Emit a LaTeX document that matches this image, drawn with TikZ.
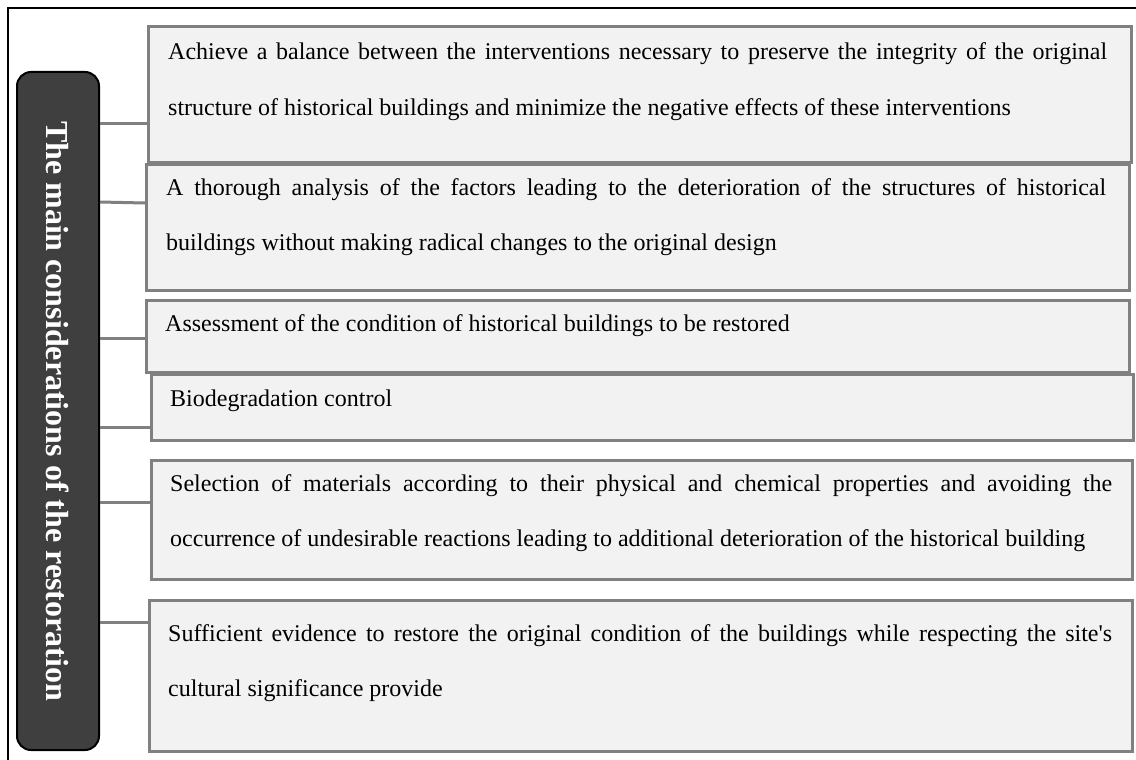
\documentclass[tikz,border=0pt]{standalone}
\usepackage{graphicx}
\usepackage{fontspec}
\setmainfont{Liberation Serif}

\definecolor{boxfill}{HTML}{F2F2F2}
\definecolor{boxline}{HTML}{808080}
\definecolor{spinefill}{HTML}{3F3F3F}

\tikzset{
  item/.style={draw=boxline, line width=3pt, fill=boxfill, inner sep=0pt, anchor=north west},
  link/.style={draw=boxline, line width=3pt},
  itemlabel/.style={inner sep=0pt, anchor=base west},
  spinebox/.style={draw=black, line width=2pt, fill=spinefill, rounded corners=14pt,
    inner sep=0pt, minimum width=82pt, minimum height=678pt, text=white},
}

% justified paragraph whose baseline is the first line
\newcommand{\itemtext}[2]{\parbox[t]{#1pt}{\fontsize{24}{55}\selectfont\hyphenpenalty=10000\relax #2}}

\begin{document}
\begin{tikzpicture}[x=1pt, y=-1pt]
  \useasboundingbox (0,0) rectangle (1136,760);
  \clip (0,0) rectangle (1136,760);

  % frame
  \draw[black, line width=2.5pt] (8,8) rectangle (1142,766);

  % title column
  \node[spinebox] (spine) at (58,411)
    {\rotatebox{-90}{\fontsize{32}{38}\selectfont\bfseries The main considerations of the restoration}};

  % consideration boxes
  \node[item, minimum width=983pt, minimum height=136pt] (b1) at (147,25) {};
  \node[item, minimum width=983pt, minimum height=126pt] (b2) at (145,163) {};
  \node[item, minimum width=983pt, minimum height=72pt]  (b3) at (145,299) {};
  \node[item, minimum width=982pt, minimum height=66pt]  (b4) at (150,373) {};
  \node[item, minimum width=981pt, minimum height=119pt] (b5) at (150,459) {};
  \node[item, minimum width=983pt, minimum height=151pt] (b6) at (148,599) {};

  % texts
  \node[itemlabel] (t1) at (168,60) {\itemtext{939}{Achieve a balance between the interventions necessary to preserve the integrity of the original\linebreak structure of historical buildings and minimize the negative effects of these interventions}};
  \node[itemlabel] (t2) at (166,195) {\itemtext{940}{A thorough analysis of the factors leading to the deterioration of the structures of historical\linebreak buildings without making radical changes to the original design}};
  \node[itemlabel] (t3) at (165,331) {\itemtext{940}{Assessment of the condition of historical buildings to be restored}};
  \node[itemlabel] (t4) at (170,406) {\itemtext{940}{Biodegradation control}};
  \node[itemlabel] (t5) at (170,491) {\itemtext{942}{Selection of materials according to their physical and chemical properties and avoiding the\linebreak occurrence of undesirable reactions leading to additional deterioration of the historical building}};
  \node[itemlabel] (t6) at (168,641) {\itemtext{944}{Sufficient evidence to restore the original condition of the buildings while respecting the site\textquotesingle s\linebreak cultural significance provide}};

  % connectors
  \draw[link] (spine.east |- 0,123) -- (b1.west |- 0,123);
  \draw[link] (spine.east |- 0,202) -- (b2.west |- 0,203);
  \draw[link] (spine.east |- 0,338) -- (b3.west |- 0,338);
  \draw[link] (spine.east |- 0,427) -- (b4.west |- 0,427);
  \draw[link] (spine.east |- 0,502) -- (b5.west |- 0,502);
  \draw[link] (spine.east |- 0,622) -- (b6.west |- 0,622);
\end{tikzpicture}
\end{document}
